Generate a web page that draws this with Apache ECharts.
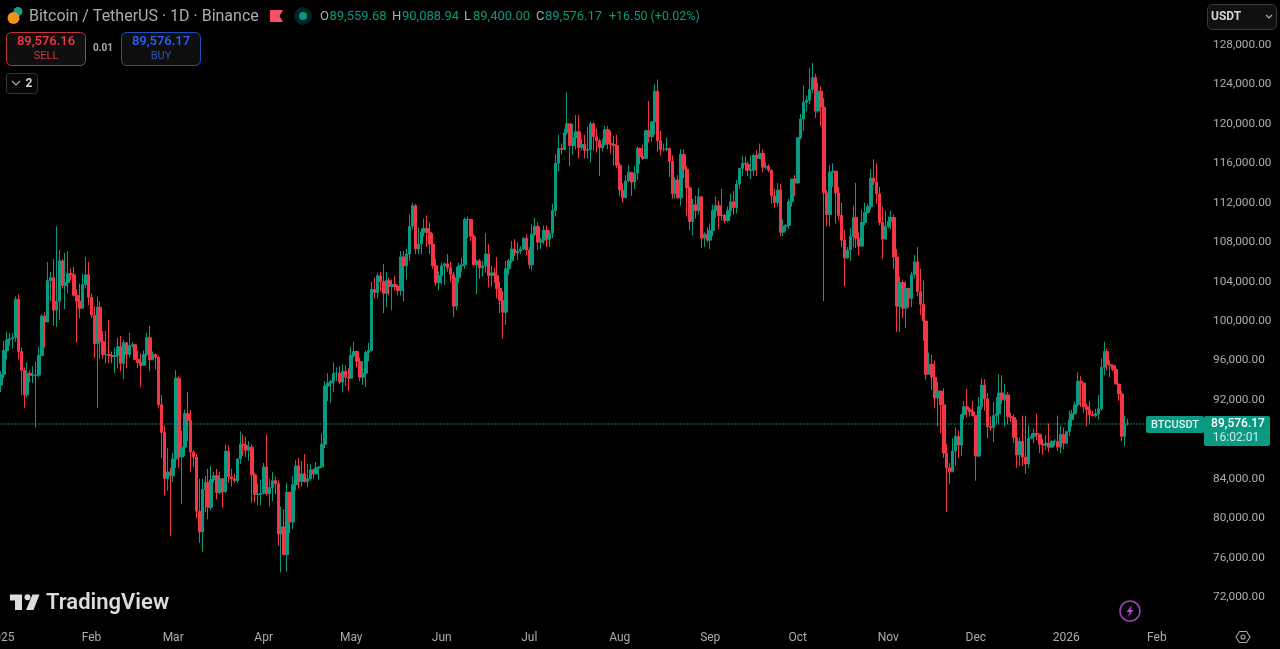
<!DOCTYPE html>
<html><head><meta charset="utf-8">
<style>html,body{margin:0;padding:0;background:#000}#c{width:1280px;height:649px}</style>
<script src="https://cdn.jsdelivr.net/npm/echarts@6/dist/echarts.min.js"></script>
</head><body><div id="c"></div>
<script>
// BTCUSDT daily, in thousands of USDT. One line per month, Jan 2025 .. Jan 2026.
const firstOpen = 93.5;
const closes = [
94.6,97.0,98.1,98.2,98.3,102.2,96.9,95.0,92.5,94.7,94.5,94.5,94.5,96.5,100.5,99.9,104.1,104.4,101.1,102.0,106.1,103.6,103.9,104.8,104.7,102.6,102.0,101.3,103.7,104.7,102.4,
100.6,97.7,101.4,97.9,96.6,96.6,96.5,96.4,96.5,97.4,95.7,97.8,96.6,97.5,97.6,96.1,95.8,95.5,96.6,98.3,96.1,96.6,96.3,91.5,88.7,84.0,84.7,84.3,
86.0,94.2,86.2,87.2,90.6,89.9,86.7,86.2,80.7,78.6,82.9,83.6,81.1,83.9,84.3,82.6,84.0,82.7,86.8,84.2,84.0,83.8,86.0,87.5,87.4,86.9,87.2,84.4,82.4,82.4,82.5,
85.2,82.5,83.1,83.8,83.5,78.4,79.1,76.3,82.6,79.6,83.4,85.3,83.7,84.5,83.7,84.0,84.9,84.5,85.1,85.2,87.5,93.4,93.7,93.9,94.7,94.7,93.8,94.9,94.3,94.2,
96.5,96.9,95.9,94.3,94.7,96.8,97.0,103.2,102.9,104.6,104.0,102.8,104.1,103.5,103.7,103.5,103.1,106.5,105.6,106.8,109.6,111.7,107.3,107.8,109.0,109.4,109.0,107.8,105.6,103.9,104.6,
105.6,105.8,105.4,104.7,101.5,104.4,105.6,105.7,110.3,110.3,108.6,105.7,106.1,105.4,105.6,106.8,104.6,104.9,104.6,103.3,102.1,100.9,105.3,106.1,107.3,106.9,107.1,107.3,108.4,107.2,
105.7,108.8,109.6,108.0,108.2,109.2,108.3,108.9,111.2,116.0,117.5,117.4,119.1,120.0,117.8,118.6,119.2,117.6,117.9,117.3,117.4,120.0,118.7,118.3,117.6,117.9,119.4,118.0,117.9,117.8,115.8,
113.3,112.5,114.2,115.1,114.1,115.0,117.5,116.7,116.5,119.3,118.7,120.2,123.3,118.3,117.4,117.4,117.5,116.2,112.9,114.3,112.5,116.9,115.4,113.5,110.1,111.8,111.2,112.6,108.4,108.8,108.2,
109.2,111.2,111.7,110.7,110.7,110.2,111.2,112.1,111.5,113.9,115.5,116.0,115.9,115.3,115.3,116.8,116.5,117.0,115.6,115.7,115.3,112.7,112.0,113.3,109.0,109.6,109.7,112.1,114.4,114.0,
118.6,120.5,122.2,122.4,123.5,124.7,121.3,123.3,121.7,113.0,110.8,115.1,115.2,113.0,110.7,108.2,106.4,107.2,108.6,110.5,108.4,107.6,110.0,111.0,111.6,114.5,114.1,112.9,110.0,108.3,109.6,
110.1,110.5,106.5,101.5,103.9,101.3,103.3,102.3,104.7,106.0,103.0,101.7,100.0,94.6,95.6,94.3,92.2,92.9,91.5,86.6,85.1,84.7,86.8,88.3,87.4,90.5,91.3,91.0,90.8,90.4,
86.3,91.3,93.5,92.1,89.3,89.2,90.4,90.6,92.7,92.0,92.5,90.3,90.2,88.2,86.4,87.8,86.2,85.5,88.1,88.3,88.6,88.5,87.5,87.4,87.6,87.2,87.8,87.8,87.2,88.5,87.6,
88.8,90.0,90.6,91.5,93.9,93.7,91.3,91.0,90.5,90.4,90.6,91.1,95.3,96.9,95.6,95.5,95.1,93.6,92.6,88.3,89.55968,89.57617
];
const highs = [
94.9,98.0,98.9,98.8,98.8,102.5,102.7,97.3,95.3,95.8,95.0,95.4,95.9,97.4,100.7,100.9,106.0,105.0,106.3,109.6,107.2,106.3,106.9,107.1,105.3,105.5,103.2,103.8,104.8,106.5,106.0,
102.8,101.5,102.5,102.0,99.0,99.0,100.1,96.9,97.3,98.3,98.5,98.1,97.3,98.8,97.9,97.7,97.0,96.7,97.0,98.8,99.5,96.9,96.7,96.5,92.5,89.4,87.1,85.1,
86.6,95.0,94.4,88.9,91.0,92.8,91.0,86.9,86.5,84.0,84.0,84.3,85.0,85.3,84.7,85.0,84.7,84.0,87.5,87.4,85.0,84.5,86.1,88.8,88.5,88.3,87.8,87.5,84.6,83.5,83.9,
85.6,88.5,84.0,84.7,84.2,83.8,81.2,80.9,83.6,82.7,84.3,85.9,86.1,85.8,86.5,85.5,85.5,85.0,85.7,85.3,88.6,93.9,94.7,94.0,95.8,95.3,95.4,95.6,95.5,95.2,
97.4,97.9,97.0,96.3,95.9,97.0,97.8,104.0,104.4,104.9,105.0,105.8,105.0,104.4,104.2,104.6,103.7,107.1,107.1,107.3,110.8,112.0,111.9,109.5,109.4,110.4,110.7,110.0,108.9,106.3,105.0,
105.9,105.9,106.8,106.0,105.0,105.5,105.9,106.4,110.5,110.6,110.4,108.8,106.2,106.3,106.1,108.9,107.8,105.6,105.4,106.5,104.0,103.0,106.1,106.3,108.1,108.3,108.0,107.6,108.5,108.8,
107.5,109.8,110.5,110.0,108.4,109.7,109.7,109.2,111.9,116.9,118.9,118.0,119.5,123.2,120.0,120.0,120.9,120.9,118.5,118.9,119.7,120.2,120.2,119.5,118.5,118.5,119.8,119.8,119.3,118.8,118.9,
116.1,114.0,114.8,115.8,115.1,115.7,117.7,117.6,117.9,119.4,122.3,120.3,124.0,124.5,119.3,118.0,118.6,117.6,116.8,114.6,114.8,117.4,117.4,115.7,113.7,112.4,112.7,113.5,112.7,109.0,109.5,
109.9,111.8,112.6,112.2,113.4,110.9,111.6,112.9,113.2,114.3,115.5,116.7,116.7,116.2,116.8,117.0,117.3,118.0,117.4,116.1,115.9,115.4,113.4,114.0,113.9,110.3,109.8,112.4,114.4,114.8,
118.6,121.0,123.9,122.9,125.7,126.2,125.1,124.2,123.8,122.6,113.3,115.8,116.0,115.1,113.6,112.0,109.2,107.5,109.4,111.7,114.0,109.0,111.3,112.0,111.9,115.4,116.4,116.0,113.6,111.6,111.2,
110.6,111.2,110.8,107.3,104.5,104.2,104.0,103.4,105.0,106.7,107.5,105.3,104.1,99.8,96.8,96.6,96.0,93.8,92.6,93.2,87.5,85.6,88.1,89.2,88.9,90.6,91.9,93.1,91.2,91.9,
88.0,92.3,94.2,94.1,92.7,90.3,91.8,92.3,94.6,94.5,93.6,92.8,90.7,90.5,90.0,88.2,90.4,90.4,89.4,88.6,89.1,90.6,88.0,88.0,88.4,89.6,87.9,88.0,90.4,89.4,89.2,
88.8,90.9,91.0,91.8,94.8,94.4,93.6,91.6,91.9,90.9,91.1,92.5,96.2,97.9,97.2,96.0,95.6,95.5,93.6,92.9,90.4,90.08894
];
const lows = [
92.8,94.2,96.1,97.5,97.2,97.9,96.1,92.5,91.2,92.2,93.8,93.7,89.2,94.3,96.5,97.3,100.0,102.0,99.5,99.4,100.1,103.3,101.2,102.8,104.1,102.5,97.8,100.3,101.3,103.3,101.6,
100.3,96.2,91.2,96.2,96.2,95.7,95.7,95.7,94.7,95.2,94.9,94.1,95.2,96.3,97.3,96.0,95.2,93.3,95.5,96.4,94.9,96.0,95.1,91.2,86.1,82.3,82.8,78.2,
83.7,85.1,85.1,81.4,86.3,87.8,84.7,85.2,80.0,77.5,76.6,80.6,79.9,80.8,83.6,81.9,82.4,81.1,82.5,83.6,83.2,83.6,83.6,85.5,86.3,86.2,85.8,81.6,81.6,81.3,81.3,
82.4,82.3,81.2,81.7,82.4,77.2,74.5,76.2,74.6,78.5,78.9,82.8,83.0,83.2,83.6,83.1,83.8,84.0,84.4,83.9,85.1,87.1,91.9,91.7,92.8,93.9,93.6,92.8,93.4,92.9,
94.1,96.3,95.3,93.9,93.5,93.3,95.9,96.9,102.3,102.3,103.0,100.8,101.4,102.6,101.1,103.1,102.6,102.6,102.0,104.2,106.1,109.3,106.8,106.8,106.8,108.6,107.5,106.8,105.3,103.6,103.1,
103.7,103.7,105.0,104.0,100.4,101.1,103.9,105.0,105.3,108.4,108.1,105.7,102.7,104.3,104.5,104.9,103.4,103.5,103.9,102.3,100.8,98.2,99.6,104.7,105.9,106.6,106.2,106.8,107.2,106.7,
105.3,105.1,108.6,107.2,107.3,107.8,107.5,107.5,108.4,110.6,115.2,116.9,117.3,118.9,115.7,116.9,117.4,116.5,117.3,116.5,116.5,116.1,117.3,117.1,114.7,117.2,117.8,117.4,117.0,115.8,115.5,
112.7,112.0,112.7,114.1,112.7,113.4,114.3,115.9,116.3,116.5,118.1,118.2,118.9,117.2,116.8,117.2,117.2,114.6,112.4,112.4,112.4,111.7,114.5,110.6,109.2,108.7,110.4,110.8,107.4,107.5,108.0,
107.3,108.6,110.5,109.3,110.2,109.9,110.0,110.6,110.8,110.9,113.4,114.7,115.2,114.7,114.4,114.7,114.7,116.7,115.1,115.4,115.1,111.9,111.5,111.6,108.6,108.6,109.1,109.3,111.6,112.7,
113.9,118.4,119.3,121.3,122.0,123.1,120.6,121.1,119.8,102.0,109.6,109.6,113.6,109.9,110.2,107.5,103.5,106.3,106.1,107.5,107.4,106.7,107.5,109.7,110.9,111.3,113.8,111.9,109.7,106.3,108.6,
109.4,109.3,105.3,98.9,98.9,100.3,99.3,101.4,101.4,104.3,102.5,100.6,98.0,94.0,94.6,93.0,91.2,89.3,88.6,86.1,80.6,83.5,84.7,85.3,86.1,86.3,90.0,90.2,90.3,90.3,
83.8,86.2,91.0,90.9,88.1,88.9,87.7,89.6,89.6,91.6,89.3,89.5,89.8,87.6,85.1,85.3,85.3,84.5,85.1,88.0,87.6,87.9,86.6,86.4,86.9,86.7,87.2,87.3,86.8,86.6,87.0,
87.5,88.3,89.3,90.5,91.3,91.3,90.7,89.3,89.6,90.3,90.2,90.0,90.9,94.5,95.0,94.3,94.9,94.8,91.9,87.8,87.3,89.4
];
const priceTicks = [72000,76000,80000,84000,88000,92000,96000,100000,104000,108000,112000,116000,120000,124000,128000];
const monthLabels = {'2025-01-01':'2025','2025-02-01':'Feb','2025-03-01':'Mar','2025-04-01':'Apr','2025-05-01':'May','2025-06-01':'Jun','2025-07-01':'Jul','2025-08-01':'Aug','2025-09-01':'Sep','2025-10-01':'Oct','2025-11-01':'Nov','2025-12-01':'Dec','2026-01-01':'2026','2026-02-01':'Feb'};
const emptyFutureDays = 26;

const UP='#089981', DOWN='#F23645', GREY='#a9acb4';
const categories=[];
for(let i=0;i<closes.length+emptyFutureDays;i++){
  categories.push(new Date(Date.UTC(2025,0,1+i)).toISOString().slice(0,10));
}
const ohlc=closes.map((c,i)=>{
  const o=(i?closes[i-1]:firstOpen);
  return [o*1000,c*1000,Math.min(lows[i],o,c)*1000,Math.max(highs[i],o,c)*1000];
});
const lastClose=closes[closes.length-1]*1000;

const FONT='Roboto, sans-serif';
function T(x,y,s,fill,size,extra){return {type:'text',z:20,style:Object.assign({x,y,text:s,fill,font:`${size}px ${FONT}`,textVerticalAlign:'middle',textAlign:'left'},extra||{})};}
function R(x,y,w,h,r,fill,stroke,lw){return {type:'rect',z:20,shape:{x,y,width:w,height:h,r},style:{fill,stroke:stroke||null,lineWidth:lw||1}};}
function P(pts,fill,stroke,lw){return {type:'polygon',z:20,shape:{points:pts},style:{fill:fill||null,stroke:stroke||null,lineWidth:lw||1}};}
function C(x,y,r,fill,stroke,lw){return {type:'circle',z:20,shape:{cx:x,cy:y,r},style:{fill:fill||null,stroke:stroke||null,lineWidth:lw||1}};}
function L(pts,stroke,lw){return {type:'polyline',z:20,shape:{points:pts},style:{fill:null,stroke,lineWidth:lw||1}};}

const graphics=[
  // header
  C(18,11.5,4.5,'#1a9a8a'),C(13.5,18,6,'#f0921e'),
  T(29,16.5,'Bitcoin / TetherUS · 1D · Binance',GREY,16),
  P([[270,10],[283,10],[279.5,16],[283,22],[270,22]],'#F7525F'),
  C(303,16,9,'#06221e'),C(303,16,4,'#089981'),
  T(320,16.5,'O',GREY,13),T(329.5,16.5,'89,559.68',UP,13),
  T(392,16.5,'H',GREY,13),T(402,16.5,'90,088.94',UP,13),
  T(464,16.5,'L',GREY,13),T(473,16.5,'89,400.00',UP,13),
  T(536,16.5,'C',GREY,13),T(545,16.5,'89,576.17',UP,13),
  T(609,16.5,'+16.50 (+0.02%)',UP,12.5),
  // sell / buy
  R(6.5,32.5,79,33,5,'#0f0f0f','#c03342',1),
  T(46,42,'89,576.16','#F7364A',13,{textAlign:'center',font:`500 13px ${FONT}`}),
  T(46,56,'SELL','#d8303f',11,{textAlign:'center'}),
  T(103,48,'0.01',GREY,10,{textAlign:'center',font:`bold 10px ${FONT}`}),
  R(121.5,32.5,79,33,5,'#0f0f0f','#1f4fc0',1),
  T(161,42,'89,576.17','#2962FF',13,{textAlign:'center',font:`500 13px ${FONT}`}),
  T(161,56,'BUY','#2a55c4',11,{textAlign:'center'}),
  R(6.5,73.5,31,20,3,'#060606','#333',1),
  L([[12,81],[16,85],[20,81]],GREY,1.2),
  T(29,84,'2','#d1d4dc',12,{textAlign:'center',font:`bold 12px ${FONT}`}),
  // currency button
  R(1207.5,4.5,69,25,5,'#101010','#3a3a3a',1),
  T(1211,16.5,'USDT','#d1d4dc',12,{font:`bold 12px ${FONT}`}),
  L([[1266,15],[1269,18],[1272,15]],GREY,1.2),
  // last price tags
  R(1146,416,58,17,2,'#0a9a83'),
  T(1175,425,'BTCUSDT','#e6f5f2',11,{textAlign:'center',font:`500 11px ${FONT}`}),
  R(1204,416,66,30,2,'#0a9a83'),
  T(1238,423.5,'89,576.17','#ffffff',12,{textAlign:'center',font:`500 12px ${FONT}`}),
  T(1236,437.5,'16:02:01','#c8ebe4',12,{textAlign:'center'}),
  // logo
  P([[10,594.5],[22,594.5],[22,610],[15,610],[15,600.5],[10,600.5]],'#dcdcdc'),
  C(27.5,597.2,3,'#dcdcdc'),
  P([[32.5,594.5],[39.5,594.5],[33.5,610],[26,610]],'#dcdcdc'),
  T(46,603,'TradingView','#dcdcdc',22,{font:`600 22px ${FONT}`}),
  // bolt badge
  C(1130,611,10,null,'#9c3fb5',1.6),
  P([[1132,605],[1126.5,612],[1129.5,612],[1128,617],[1133.5,610],[1130.5,610]],'#b04ccc'),
  // settings
  P([[1236,637],[1239.5,631.5],[1246.5,631.5],[1250,637],[1246.5,642.5],[1239.5,642.5]],null,GREY,1.1),
  C(1243,637,2,null,GREY,1.1)
];

const option={
  backgroundColor:'#000',animation:false,
  grid:{left:-0.5,right:75,top:45,bottom:52,outerBoundsMode:'none'},
  xAxis:{type:'category',data:categories,boundaryGap:true,
    axisLine:{show:false},axisTick:{show:false},splitLine:{show:false},
    axisLabel:{color:GREY,fontFamily:'Roboto, sans-serif',fontSize:12,margin:35,
      interval:(idx,val)=>!!monthLabels[val],formatter:val=>monthLabels[val]||''}},
  yAxis:{type:'value',position:'right',min:priceTicks[0],max:priceTicks[priceTicks.length-1],interval:4000,scale:true,
    axisLine:{show:false},axisTick:{show:false},splitLine:{show:false},
    axisLabel:{color:GREY,fontFamily:'Roboto, sans-serif',fontSize:11.8,margin:8,
      formatter:v=>v===88000?'':v.toLocaleString('en-US',{minimumFractionDigits:2,maximumFractionDigits:2})}},
  series:[{type:'candlestick',data:ohlc,barWidth:3,clip:false,
    itemStyle:{color:UP,color0:DOWN,borderColor:UP,borderColor0:DOWN,borderWidth:1},
    markLine:{silent:true,symbol:'none',animation:false,label:{show:false},
      lineStyle:{color:'#0aa58c',type:[1,2],width:1.6,opacity:1},data:[{yAxis:lastClose}]}}],
  graphic:graphics
};
echarts.init(document.getElementById('c'),null,{renderer:'canvas'}).setOption(option);
</script></body></html>
